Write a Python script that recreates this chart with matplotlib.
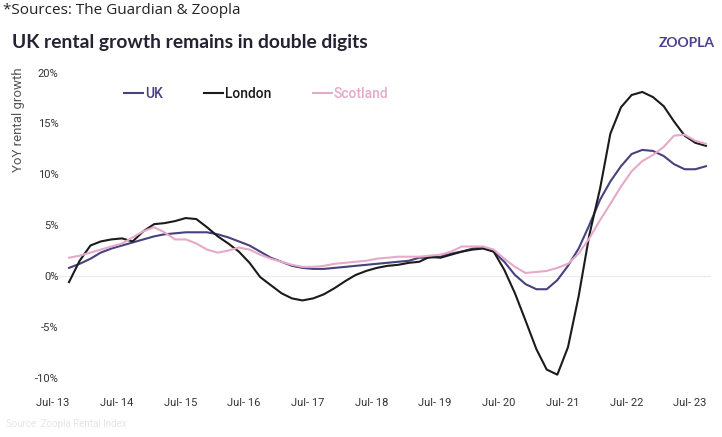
import matplotlib
matplotlib.use("Agg")
import matplotlib.pyplot as plt
import pandas as pd

# bi-monthly readings, Oct-13 .. Oct-23 (YoY %)
dates = pd.date_range("2013-10-01", periods=61, freq="2MS")

uk = [0.8, 1.2, 1.7, 2.3, 2.7, 3.0, 3.3, 3.6, 3.9, 4.1,
      4.2, 4.3, 4.3, 4.3, 4.1, 3.8, 3.4, 3.0, 2.4, 1.8,
      1.4, 1.0, 0.8, 0.7, 0.7, 0.8, 0.9, 1.0, 1.1, 1.2,
      1.3, 1.4, 1.5, 1.8, 1.8, 1.9, 2.2, 2.4, 2.7, 2.8,
      2.4, 1.4, 0.1, -0.8, -1.3, -1.3, -0.4, 1.0, 2.7, 5.0,
      7.5, 9.3, 10.8, 12.0, 12.4, 12.3, 11.8, 11.0, 10.5, 10.5,
      10.8]

london = [-0.6, 1.5, 3.0, 3.4, 3.6, 3.7, 3.4, 4.4, 5.1, 5.2,
          5.4, 5.7, 5.6, 4.8, 3.9, 3.2, 2.4, 1.3, -0.1, -0.9,
          -1.7, -2.2, -2.4, -2.2, -1.8, -1.2, -0.5, 0.1, 0.5, 0.8,
          1.0, 1.1, 1.3, 1.4, 1.9, 1.8, 2.1, 2.4, 2.6, 2.7,
          2.4, 0.6, -1.7, -4.4, -7.2, -9.2, -9.7, -7.0, -2.0, 4.0,
          8.6, 14.0, 16.6, 17.8, 18.1, 17.6, 16.7, 15.2, 13.8, 13.1,
          12.8]

scotland = [1.8, 2.0, 2.3, 2.6, 2.9, 3.2, 3.8, 4.4, 4.8, 4.3,
            3.6, 3.6, 3.2, 2.6, 2.3, 2.5, 2.8, 2.6, 2.1, 1.7,
            1.4, 1.1, 0.9, 0.9, 1.0, 1.2, 1.3, 1.4, 1.5, 1.7,
            1.8, 1.9, 1.9, 1.9, 2.0, 2.1, 2.4, 2.9, 2.9, 2.9,
            2.6, 1.7, 0.9, 0.3, 0.4, 0.5, 0.8, 1.2, 2.2, 3.7,
            5.5, 7.1, 8.8, 10.3, 11.3, 11.9, 12.7, 13.8, 13.9, 13.3,
            13.0]

tick_dates = pd.date_range("2013-07-01", periods=11, freq="12MS")
tick_labels = ["Jul- 13", "Jul- 14", "Jul- 15", "Jul- 16", "Jul- 17", "Jul- 18",
               "Jul- 19", "Jul- 20", "Jul- 21", "Jul- 22", "Jul- 23"]
y_ticks = [-10, -5, 0, 5, 10, 15, 20]

plt.rcParams['font.family'] = ['Roboto', 'DejaVu Sans']

fig = plt.figure(figsize=(7.22, 4.37), dpi=100)
ax = fig.add_axes([0.062, 0.1124, 0.923, 0.74])

ax.axhline(0, color='#f3e8ec', lw=1.0, zorder=0)
ax.plot(dates, uk, color='#47417e', lw=1.5, label='UK')
ax.plot(dates, london, color='#1b1b1b', lw=1.5, label='London')
ax.plot(dates, scotland, color='#e7a9c8', lw=1.5, label='Scotland')

start = pd.Timestamp("2013-07-01")
ax.set_xlim(start - pd.Timedelta(days=47), start + pd.Timedelta(days=int(124 * 30.44)))
ax.set_ylim(-11, 20.8)

ax.set_xticks(tick_dates)
ax.set_xticklabels(tick_labels, fontsize=8, color='#333333')
ax.set_yticks(y_ticks)
ax.set_yticklabels([f"{v}%" for v in y_ticks], fontsize=8, color='#333333', ha='right')
ax.tick_params(axis='both', length=0)
ax.tick_params(axis='y', pad=-10)
ax.tick_params(axis='x', pad=7)
for s in ax.spines.values():
    s.set_visible(False)

ax.set_ylabel('YoY rental growth', fontsize=9.5, color='#555555')
ax.yaxis.set_label_coords(-0.03, 0.83)

leg = ax.legend(loc='upper left', bbox_to_anchor=(0.1, 0.97), ncol=3, frameon=False,
                handlelength=1.35, handletextpad=0.15, columnspacing=3.0,
                labelcolor='linecolor', fontsize=10)
for t in leg.get_texts():
    t.set_fontweight('medium')

fig.text(0.004, 0.975, '*Sources: The Guardian & Zoopla', fontsize=11,
         color='#222222', va='center', family='Open Sans')
fig.text(0.016, 0.902, 'UK rental growth remains in double digits', fontsize=13.9,
         fontweight='bold', color='#262233', va='center', family='Lato')
fig.text(0.99, 0.902, 'ZOOPLA', fontsize=10, fontweight='bold', color='#4b3f8f',
         va='center', ha='right', family='Lato')
fig.text(0.008, 0.03, 'Source: Zoopla Rental Index', fontsize=7, color='#e6e6e6', va='center')

fig.savefig('out.png', dpi=100, facecolor='white')
